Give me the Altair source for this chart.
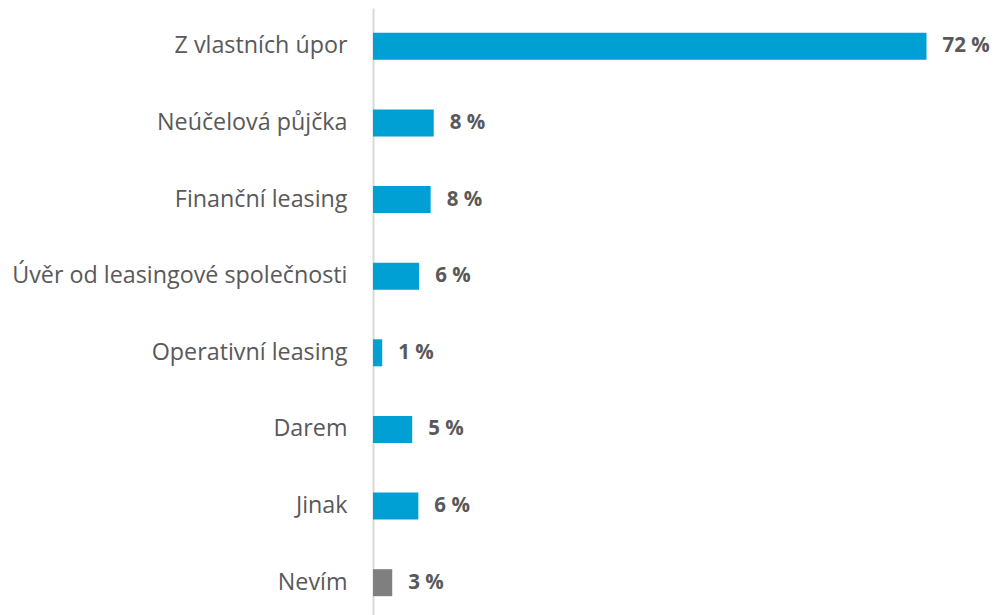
import altair as alt
import pandas as pd

categories = ["Z vlastních úpor", "Neúčelová půjčka", "Finanční leasing",
              "Úvěr od leasingové společnosti", "Operativní leasing", "Darem",
              "Jinak", "Nevím"]
values = [72, 7.9, 7.5, 6.0, 1.2, 5.1, 5.9, 2.5]
labels = ["72 %", "8 %", "8 %", "6 %", "1 %", "5 %", "6 %", "3 %"]
groups = ["a", "a", "a", "a", "a", "a", "a", "b"]

df = pd.DataFrame({"cat": categories, "val": values, "lab": labels, "grp": groups})

y = alt.Y("cat:N", sort=categories, title=None,
          scale=alt.Scale(paddingInner=0.65, paddingOuter=0.325),
          axis=alt.Axis(ticks=False, domainColor="#D9D9D9", domainWidth=2,
                        labelFont="Open Sans", labelFontSize=23.3, labelColor="#595959",
                        labelPadding=26, labelLimit=400))
x = alt.X("val:Q", title=None, scale=alt.Scale(domain=[0, 80], nice=False),
          axis=None)

bars = alt.Chart(df).mark_bar(size=27).encode(
    x=x, y=y,
    color=alt.Color("grp:N", scale=alt.Scale(domain=["a", "b"], range=["#009FD4", "#7F7F7F"]),
                    legend=None),
)
text = alt.Chart(df).mark_text(align="left", baseline="middle", dx=16, font="Open Sans",
                               fontSize=20.5, fontWeight="bold", color="#595959").encode(
    x=x, y=y, text="lab:N")

chart = (bars + text).properties(
    width=615, height=613,
    autosize=alt.AutoSizeParams(type="none"),
    padding={"left": 365, "top": 0, "right": 2, "bottom": 0},
).configure_view(stroke=None)

chart.save("out.html", embed_options={"renderer": "svg", "actions": False})
